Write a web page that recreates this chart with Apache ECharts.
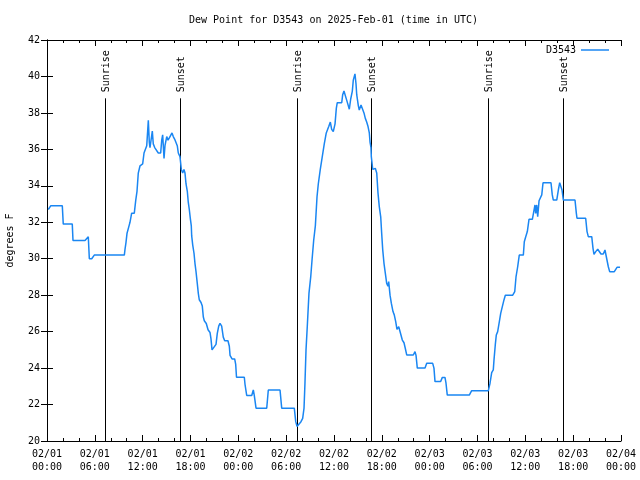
<!DOCTYPE html>
<html>
<head>
<meta charset="utf-8">
<script src="https://cdn.jsdelivr.net/npm/echarts@6/dist/echarts.min.js"></script>
<style>html,body{margin:0;padding:0;background:#fff}#chart{width:640px;height:480px}</style>
</head>
<body>
<div id="chart"></div>
<script>
// Hours since 2025-02-01 00:00 UTC, dew point in degrees F
const dewPoint = [
[0.16,32.7],[0.46,32.9],[1.92,32.9],[2.04,31.9],[3.17,31.9],[3.26,31.0],[4.77,31.0],[4.95,31.1],[5.18,31.2],[5.31,30.0],
[5.61,30.0],[5.93,30.2],[9.70,30.2],[9.78,30.5],[9.91,30.9],[10.04,31.4],[10.29,31.8],[10.41,32.0],[10.62,32.5],[10.95,32.5],
[11.13,33.2],[11.29,33.7],[11.45,34.7],[11.67,35.1],[12.00,35.2],[12.17,35.8],[12.42,35.9],[12.51,36.2],[12.71,37.6],[12.83,36.4],
[12.92,36.1],[13.05,36.5],[13.21,37.0],[13.33,36.3],[13.51,36.1],[13.76,36.0],[13.96,35.8],[14.26,35.8],[14.39,36.5],[14.51,36.8],
[14.68,35.5],[14.80,36.2],[15.02,36.7],[15.18,36.5],[15.43,36.7],[15.68,36.9],[15.84,36.7],[16.02,36.55],[16.18,36.55],[16.34,36.2],
[16.47,35.8],[16.68,35.6],[16.85,34.9],[17.02,34.7],[17.18,34.9],[17.31,34.7],[17.44,34.1],[17.60,33.7],[17.72,33.1],[17.85,32.7],
[17.98,32.2],[18.10,31.8],[18.15,31.25],[18.28,30.75],[18.44,30.3],[18.56,29.75],[18.69,29.3],[18.85,28.65],[18.98,28.1],[19.10,27.75],
[19.32,27.6],[19.48,27.4],[19.61,26.8],[19.73,26.6],[19.98,26.45],[20.20,26.1],[20.45,25.95],[20.57,25.6],[20.70,25.0],[20.95,25.0],
[21.20,25.3],[21.36,25.9],[21.54,26.3],[21.70,26.45],[21.91,26.3],[22.11,25.7],[22.29,25.5],[22.70,25.5],[22.87,25.2],[22.96,24.7],
[23.21,24.5],[23.54,24.5],[23.67,24.2],[23.77,23.5],[24.75,23.5],[24.84,23.1],[25.05,22.5],[25.68,22.5],[25.88,22.8],[26.00,22.5],
[26.22,21.8],[27.56,21.8],[27.76,22.8],[29.23,22.8],[29.44,21.8],[31.02,21.8],[31.20,21.06],[31.36,20.8],[31.61,20.9],[31.86,21.06],
[32.07,21.24],[32.24,21.8],[32.36,23.2],[32.49,25.0],[32.65,26.3],[32.86,28.1],[33.08,29.0],[33.24,29.9],[33.45,31.0],[33.66,31.8],
[33.87,33.4],[34.03,34.1],[34.28,34.9],[34.53,35.6],[34.78,36.3],[35.03,36.9],[35.34,37.25],[35.54,37.5],[35.71,37.1],[35.91,36.97],
[36.13,37.4],[36.29,38.25],[36.41,38.56],[36.97,38.56],[37.09,39.0],[37.25,39.2],[37.42,39.2],[37.59,38.7],[37.79,38.4],[37.92,38.2],
[38.09,38.75],[38.30,39.2],[38.42,39.8],[38.63,40.14],[38.76,39.6],[38.85,39.0],[39.05,38.4],[39.17,38.16],[39.39,38.43],[39.55,38.43],
[39.76,38.0],[39.93,37.7],[40.10,37.5],[40.27,37.25],[40.43,36.9],[40.52,36.4],[40.64,36.1],[40.68,35.6],[40.86,34.9],[41.02,34.8],
[41.18,34.96],[41.36,34.7],[41.52,33.6],[41.68,32.86],[41.86,32.3],[41.98,31.4],[42.11,30.5],[42.27,29.75],[42.44,29.2],[42.61,28.65],
[42.77,28.5],[42.86,28.74],[43.03,28.0],[43.19,27.56],[43.40,27.1],[43.56,26.92],[43.74,26.55],[43.90,26.13],[44.12,26.27],[44.37,26.36],
[44.57,25.54],[44.78,25.39],[44.94,25.09],[45.12,24.72],[45.95,24.72],[46.16,24.9],[46.29,24.7],[46.45,24.0],[47.42,24.0],[47.63,24.26],
[48.38,24.26],[48.54,24.0],[48.67,23.26],[49.38,23.26],[49.59,23.49],[49.92,23.49],[50.05,23.17],[50.21,22.52],[52.97,22.52],[53.27,22.76],
[55.36,22.76],[55.57,23.17],[55.78,23.75],[55.98,23.9],[56.07,24.45],[56.23,25.27],[56.36,25.82],[56.53,26.0],[56.74,26.55],[56.91,27.0],
[57.11,27.0],[57.32,27.74],[57.49,28.0],[58.42,28.0],[58.67,28.19],[58.83,29.0],[59.04,29.56],[59.24,30.2],[59.75,30.2],[59.87,30.93],
[60.05,31.21],[60.25,31.49],[60.46,32.16],[60.88,32.16],[61.00,32.45],[61.21,32.95],[61.30,32.49],[61.43,32.95],[61.55,32.31],[61.72,33.18],
[61.97,33.18],[62.06,33.5],[62.22,34.17],[63.22,34.17],[63.38,33.5],[63.51,33.22],[63.94,33.22],[64.14,33.77],[64.31,34.17],[64.48,34.17],
[64.60,33.77],[64.77,33.22],[66.23,33.22],[66.40,32.49],[66.48,32.22],[67.57,32.22],[67.74,31.49],[67.90,31.21],[68.33,31.21],[68.49,30.57],
[68.61,30.24],[68.83,30.39],[69.08,30.52],[69.24,30.52],[69.49,30.26],[69.78,30.26],[69.99,30.48],[70.24,30.48],[70.41,29.56],[70.58,29.29],
[71.16,29.29],[71.34,29.42],[71.50,29.53],[71.88,29.53]
];
const sunHours = [7.32, 16.71, 31.36, 40.67, 55.36, 64.77];
const sunLabels = ['Sunrise', 'Sunset', 'Sunrise', 'Sunset', 'Sunrise', 'Sunset'];
const sunLineTop = 38.8;
const yMin = 20, yMax = 42, yStep = 2;
const xMin = 0, xMax = 72, xStep = 6;
const seriesName = 'D3543';
const titleText = 'Dew Point for D3543 on 2025-Feb-01 (time in UTC)';

const FONT = 'DejaVu Sans Mono';
function pad(n){ return (n < 10 ? '0' : '') + n; }
function xLabel(v){
  const d = 1 + Math.floor(v / 24);
  const hh = Math.round(v % 24);
  return '02/' + pad(d) + '\n' + pad(hh) + ':00';
}
const tickCommon = {inside: true, length: 6, lineStyle: {color: '#000', width: 1}};
const minorCommon = {show: true, splitNumber: 3, length: 3, lineStyle: {color: '#000', width: 1}};
const axisLineCommon = {show: true, lineStyle: {color: '#000', width: 1}};

const chart = echarts.init(document.getElementById('chart'), null, {renderer: 'canvas'});
chart.setOption({
  animation: false,
  backgroundColor: '#fff',
  textStyle: {fontFamily: FONT},
  title: {
    text: titleText, left: 184, top: 10,
    textStyle: {fontFamily: FONT, fontSize: 10, fontWeight: 'normal', color: '#000'}
  },
  legend: {
    data: [{name: seriesName, icon: 'rect'}], right: 31, top: 45, align: 'right', padding: 0,
    itemWidth: 28, itemHeight: 1.5,
    textStyle: {fontFamily: FONT, fontSize: 10, color: '#000'}
  },
  grid: {left: 47, right: 19, top: 40, bottom: 39, containLabel: false, outerBoundsMode: 'none'},
  xAxis: [{
    type: 'value', min: xMin, max: xMax, interval: xStep,
    axisLine: axisLineCommon, axisTick: tickCommon, minorTick: minorCommon,
    splitLine: {show: false},
    axisLabel: {formatter: xLabel, fontFamily: FONT, fontSize: 10, color: '#000', lineHeight: 13, margin: 7, showMinLabel: true, showMaxLabel: true}
  }, {
    type: 'value', position: 'top', min: xMin, max: xMax, interval: xStep,
    axisLine: axisLineCommon, axisTick: tickCommon, minorTick: minorCommon,
    splitLine: {show: false}, axisLabel: {show: false}
  }],
  yAxis: [{
    type: 'value', min: yMin, max: yMax, interval: yStep,
    name: 'degrees F', nameLocation: 'middle', nameRotate: 90, nameGap: 32,
    nameTextStyle: {fontFamily: FONT, fontSize: 10, color: '#000'},
    axisLine: axisLineCommon, axisTick: tickCommon,
    splitLine: {show: false},
    axisLabel: {fontFamily: FONT, fontSize: 10, color: '#000', margin: 7}
  }, {
    type: 'value', position: 'right', min: yMin, max: yMax, interval: yStep,
    axisLine: axisLineCommon, axisTick: tickCommon,
    splitLine: {show: false}, axisLabel: {show: false}
  }],
  series: [{
    type: 'custom',
    silent: true,
    data: sunHours.map(h => [h, yMin]),
    renderItem: function(params, api){
      const h = api.value(0);
      const p0 = api.coord([h, yMin]);
      const p1 = api.coord([h, sunLineTop]);
      const lx = Math.round(p0[0]) + 0.5;
      return {
        type: 'group',
        children: [{
          type: 'line',
          shape: {x1: lx, y1: p0[1], x2: lx, y2: p1[1]},
          style: {stroke: '#000', lineWidth: 1}
        }, {
          type: 'text',
          x: lx + 1, y: p1[1] - 6,
          rotation: Math.PI / 2,
          style: {text: sunLabels[params.dataIndex], fill: '#000', font: '10px "' + FONT + '"', align: 'left', verticalAlign: 'middle'}
        }]
      };
    }
  }, {
    name: seriesName,
    type: 'line',
    data: dewPoint,
    symbol: 'none',
    showSymbol: false,
    lineStyle: {color: '#1a86f2', width: 1.5},
    itemStyle: {color: '#1a86f2'}
  }]
});
</script>
</body>
</html>
